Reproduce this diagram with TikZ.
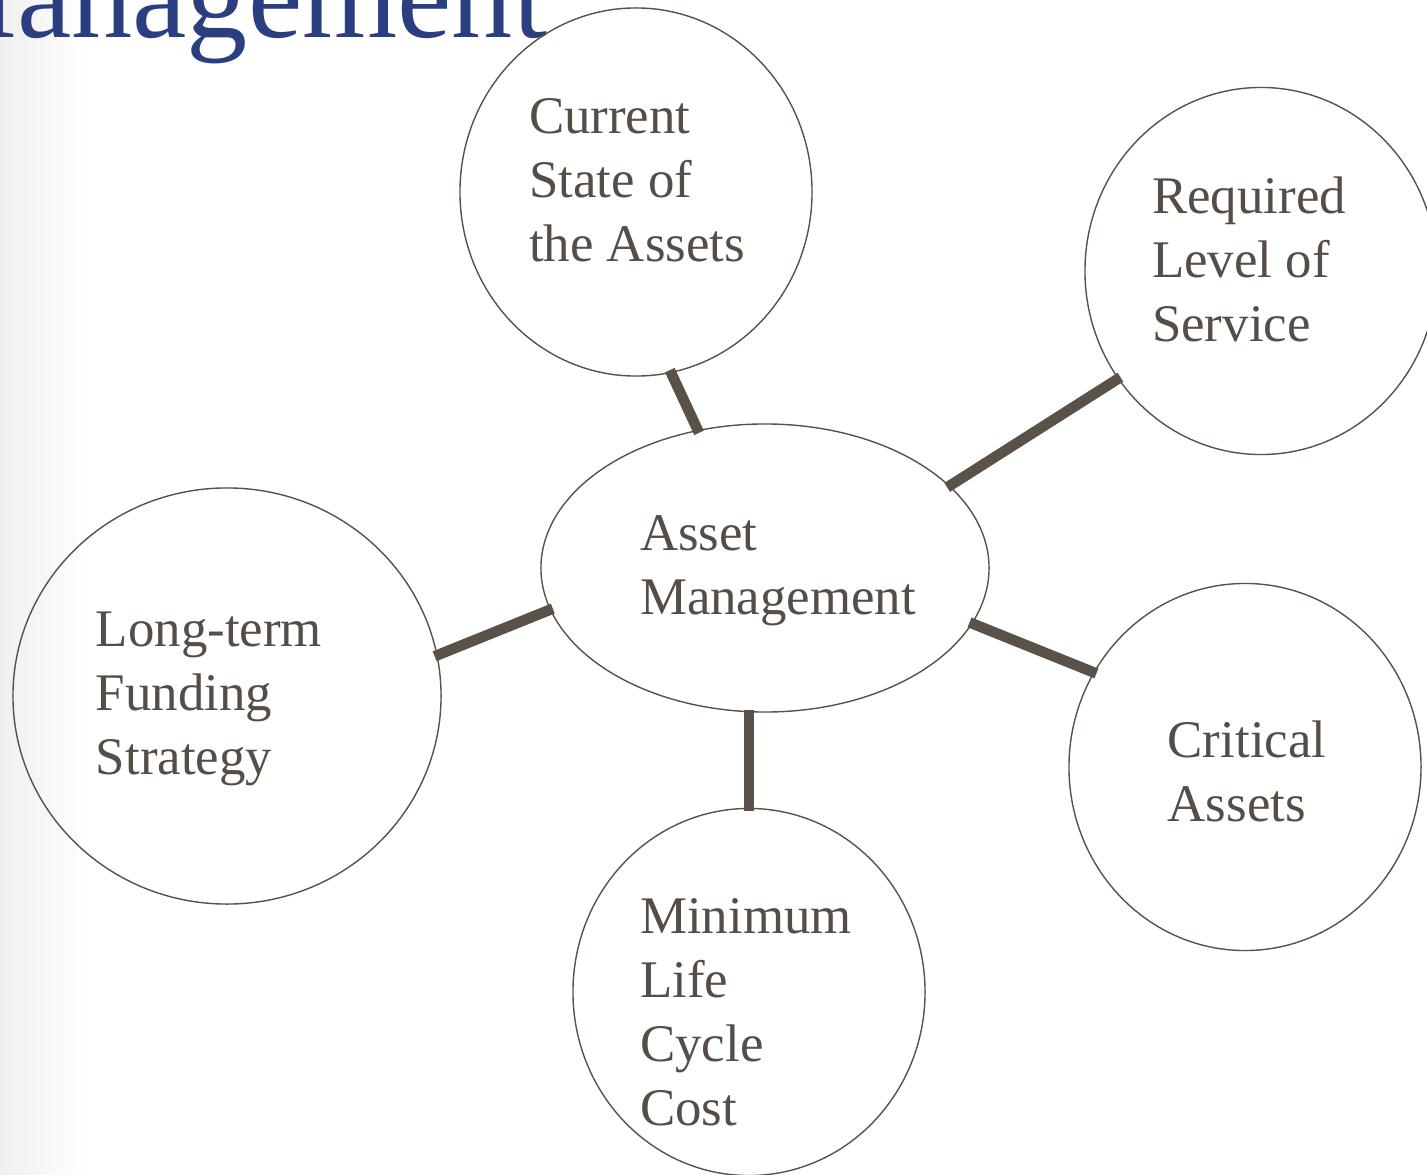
\documentclass[tikz,border=0pt]{standalone}
\usepackage{fontspec}
\setmainfont{Liberation Serif}
\usetikzlibrary{shapes.geometric}

\definecolor{inkbrown}{HTML}{5A5148}
\definecolor{textbrown}{HTML}{554D46}
\definecolor{titleblue}{HTML}{2B3F80}

\begin{document}
\begin{tikzpicture}[x=0.025cm, y=-0.025cm,
    bubble/.style={ellipse, draw=inkbrown, line width=1pt, inner sep=0pt},
    tag/.style={text=textbrown, align=left, inner sep=0pt, font=\fontsize{37.6}{45.5}\selectfont},
    link/.style={draw=inkbrown, line width=7.5pt, shorten <=-0.08cm, shorten >=-0.08cm}]
    % Page frame
    \useasboundingbox (0,0) rectangle (1427,1175);
    \clip (0,0) rectangle (1427,1175);
    \shade[left color=black!6, right color=white] (0,0) rectangle (90,1175);

    % Slide title (cut off)
    \node[anchor=base west, inner sep=0pt, text=titleblue, font=\fontsize{87}{100}\selectfont] (title) at (-92,38) {Management};

    % Centre
    \node[bubble, minimum width=11.2cm, minimum height=7.2cm] (asset) at (765,568) {};

    % Around it
    \node[bubble, minimum width=8.8cm, minimum height=9.2cm] (state) at (636,192) {};
    \node[bubble, minimum width=8.8cm, minimum height=9.175cm] (service) at (1261,271) {};
    \node[bubble, minimum width=10.7cm, minimum height=10.4cm] (funding) at (227,696) {};
    \node[bubble, minimum width=8.8cm, minimum height=9.175cm] (critical) at (1245,767) {};
    \node[bubble, minimum width=8.8cm, minimum height=9.175cm] (lifecycle) at (749,992) {};

    % Texts
    \node[tag] (asset-text) at ([shift={(13,3)}]asset.center) {Asset\\Management};
    \node[tag] (state-text) at ([shift={(1,-12)}]state.center) {Current\\State of\\the Assets};
    \node[tag] (service-text) at ([shift={(-12,-12)}]service.center) {Required\\Level of\\Service};
    \node[tag] (funding-text) at ([shift={(-18,3)}]funding.center) {Long-term\\Funding\\Strategy};
    \node[tag] (critical-text) at ([shift={(2,4)}]critical.center) {Critical\\Assets};
    \node[tag] (lifecycle-text) at ([shift={(-3,20)}]lifecycle.center) {Minimum\\Life\\Cycle\\Cost};

    % Links
    \draw[link] (asset.116) -- (state.-79);
    \draw[link] (asset.24) -- (service.-143);
    \draw[link] (asset.191) -- (funding.11);
    \draw[link] (asset.-15.5) -- (critical.148);
    \draw[link] (lifecycle.north) -- (lifecycle.north |- asset.south);
\end{tikzpicture}
\end{document}
